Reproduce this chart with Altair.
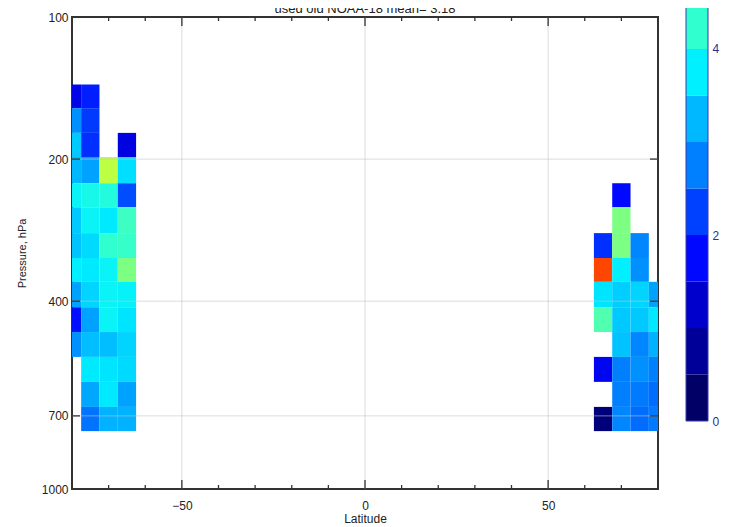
import altair as alt
import pandas as pd

title_text = "used  old NOAA-18 mean=  3.18"

# pressure bin edges (hPa), top to bottom
p_edges = [139, 156, 176, 198, 225, 253, 287, 324, 364, 412, 465, 525, 593, 670, 754]
bin_width = 5.0
south_lats = [-80, -75, -70, -65]
north_lats = [65, 70, 75, 80]
N = None
south_vals = [
    [1.25, 1.70, N, N],
    [2.65, 1.95, N, N],
    [3.15, 1.85, N, 1.20],
    [3.00, 2.80, 5.10, 3.35],
    [3.60, 3.75, 3.85, 2.10],
    [3.15, 3.60, 3.45, 4.10],
    [3.10, 3.30, 4.00, 4.05],
    [3.50, 3.45, 3.60, 4.60],
    [2.80, 3.25, 3.60, 3.55],
    [1.55, 2.80, 3.60, 3.40],
    [2.65, 3.05, 3.05, 3.25],
    [N, 3.45, 3.40, 3.30],
    [N, 2.85, 3.45, 2.80],
    [N, 2.40, 2.95, 2.95],
]
north_vals = [
    [N, N, N, N],
    [N, N, N, N],
    [N, N, N, N],
    [N, N, N, N],
    [N, 1.50, N, N],
    [N, 4.60, N, N],
    [1.85, 4.60, 2.55, N],
    [6.95, 3.50, 2.65, N],
    [3.40, 3.20, 3.25, 2.80],
    [4.25, 3.15, 3.15, 3.45],
    [N, 3.10, 2.55, 2.95],
    [1.35, 2.50, 2.65, 2.50],
    [N, 2.50, 2.45, 2.35],
    [0.20, 2.55, 2.35, 2.45],
]

color_stops = [0.0, 0.5, 1.0, 1.5, 2.0, 2.5, 3.0, 3.5, 4.0, 4.5, 5.0, 5.5, 6.0, 6.5, 7.0, 7.5, 8.0]
color_list = ["#000066", "#000099", "#0000cc", "#0008ff", "#0040ff", "#0080ff",
              "#00b8ff", "#00f0ff", "#30ffd0", "#70ff90", "#b0ff50", "#f0ff10",
              "#ffc000", "#ff8000", "#ff4000", "#ff0000", "#a00000"]
cbar_levels = [0.0, 0.5, 1.0, 1.5, 2.0, 2.5, 3.0, 3.5, 4.0, 4.5]
cbar_step = 0.5
cbar_labels = [0, 2, 4]

x_major = [-50, 0, 50]
x_minor = [-70, -60, -40, -30, -20, -10, 10, 20, 30, 40, 60, 70]
p_ticks = [200, 400, 700]
p_labels = [100, 200, 400, 700, 1000]

rows = []
for lats, vals in ((south_lats, south_vals), (north_lats, north_vals)):
    for i, r in enumerate(vals):
        for lat, v in zip(lats, r):
            if v is None:
                continue
            rows.append(dict(x0=lat - bin_width / 2, x1=lat + bin_width / 2,
                             p_top=p_edges[i], p_bot=p_edges[i + 1], value=v))
df = pd.DataFrame(rows)
cb = pd.DataFrame({"lo": cbar_levels, "hi": [l + cbar_step for l in cbar_levels], "value": cbar_levels})
cb_box = pd.DataFrame({"lo": [cbar_levels[0]], "hi": [cbar_levels[-1] + 2 * cbar_step]})

W, H = 586, 472
FONT = "Liberation Sans"
c_scale = alt.Scale(domain=color_stops, range=color_list, interpolate="rgb")
x_scale = alt.Scale(domain=[-80, 80], nice=False, zero=False)
def p_scale():
    return alt.Scale(type="log", domain=[100, 1000], reverse=True, nice=False)
cb_scale = alt.Scale(domain=[-0.731, 4.344], nice=False, zero=False)

heat = alt.Chart(df).mark_rect(clip=True).encode(
    x=alt.X("x0:Q", scale=x_scale,
            axis=alt.Axis(values=x_major, title="Latitude", ticks=False, domain=False, grid=False,
                          labelPadding=11, titlePadding=2, format="d")),
    x2="x1:Q",
    y=alt.Y("p_top:Q", scale=p_scale(),
            axis=alt.Axis(orient="left", values=p_labels, title="Pressure, hPa", ticks=False,
                          domain=False, grid=False, format="d", labelPadding=4,
                          titlePadding=14, titleFontSize=11)),
    y2="p_bot:Q",
    color=alt.Color("value:Q", scale=c_scale, legend=None),
)

grid_col = "#c4c4c4"
vgrid = alt.Chart(pd.DataFrame({"lat": x_major})).mark_rule(color=grid_col, opacity=0.6, strokeWidth=1).encode(
    x="lat:Q", y=alt.value(0), y2=alt.value(H))
hgrid = alt.Chart(pd.DataFrame({"p": p_ticks})).mark_rule(color=grid_col, opacity=0.6, strokeWidth=1).encode(
    y=alt.Y("p:Q", scale=p_scale(), axis=None), x=alt.value(0), x2=alt.value(W))

tick_col = "#333333"
def xticks(vals, y1, y2):
    return alt.Chart(pd.DataFrame({"lat": vals})).mark_rule(color=tick_col, strokeWidth=1.3).encode(
        x="lat:Q", y=alt.value(y1), y2=alt.value(y2))
def yticks(x1, x2):
    return alt.Chart(pd.DataFrame({"p": p_ticks})).mark_rule(color=tick_col, strokeWidth=1.3).encode(
        y=alt.Y("p:Q", scale=p_scale(), axis=None), x=alt.value(x1), x2=alt.value(x2))

cbar = alt.Chart(cb).mark_rect().encode(
    x=alt.value(614), x2=alt.value(636),
    y=alt.Y("lo:Q", scale=cb_scale,
            axis=alt.Axis(orient="right", offset=50, values=cbar_labels, ticks=False, domain=False,
                          grid=False, title=None, labelColor="#2e2e8f", labelPadding=4,
                          labelFontSize=12)),
    y2="hi:Q",
    color=alt.Color("value:Q", scale=c_scale, legend=None),
)
cbar_outline = alt.Chart(cb_box).mark_rect(filled=False, stroke="#3a3aa8", strokeWidth=1).encode(
    x=alt.value(614), x2=alt.value(636),
    y=alt.Y("lo:Q", scale=cb_scale, axis=None), y2="hi:Q")

title = alt.Chart(pd.DataFrame({"t": [title_text]})).mark_text(
    font=FONT, fontSize=13, color="#222222", baseline="alphabetic", align="center").encode(
    text="t:N", x=alt.value(W / 2), y=alt.value(-4))

chart = alt.layer(
    heat, vgrid, hgrid,
    xticks(x_major, H, H - 9), xticks(x_minor, H, H - 4),
    xticks(x_major, 0, 9), xticks(x_minor, 0, 4),
    yticks(0, 8), yticks(W, W - 8),
    cbar, cbar_outline, title,
).resolve_scale(y="independent", color="shared").properties(
    width=W, height=H,
    autosize=alt.AutoSizeParams(type="none"),
    padding={"left": 64, "top": 9, "right": 85, "bottom": 38},
).configure_view(stroke="#333333", strokeWidth=2).configure_axis(
    labelFont=FONT, titleFont=FONT, labelFontSize=12, titleFontSize=12,
    labelColor="#222222", titleColor="#222222", titleFontWeight="normal",
)

chart.save("out.html", embed_options={"renderer": "svg", "actions": False})
